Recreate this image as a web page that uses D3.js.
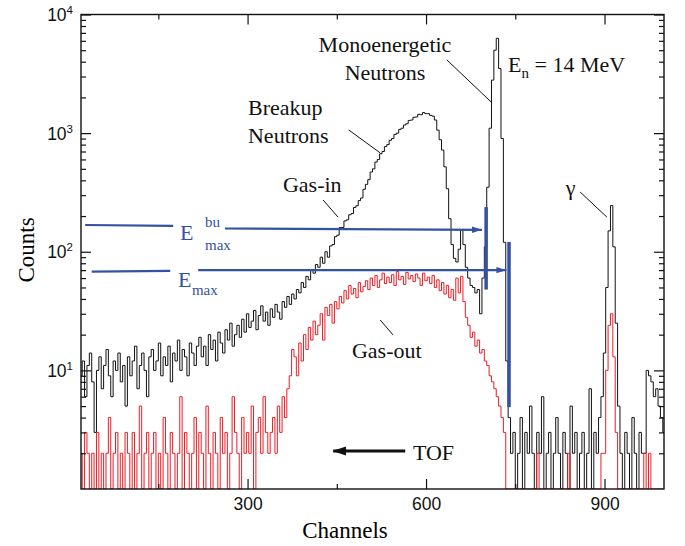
<!DOCTYPE html>
<html>
<head>
<meta charset="utf-8">
<script src="https://cdn.jsdelivr.net/npm/d3@7"></script>
<style>
  body { margin: 0; background: #fff; }
  svg { display: block; }
  .tick text { font-family: "Liberation Sans", Arial, sans-serif; font-size: 17.5px; fill: #111; }
</style>
</head>
<body>
<div id="container"></div>
<script>
/* CONSTANTS AND GLOBALS */
const width = 685, height = 546;
const margin = { top: 14.5, right: 21, bottom: 57, left: 81 };
const serifFont = "'Liberation Serif', 'Times New Roman', serif";

/* DATA */
// channels sampled every 4 bins
const channels = d3.range(20, 1001, 4);

// Gas-in spectrum (black)
const gasIn = [
  9, 12, 6, 11, 14, 8, 3, 10, 13, 7,
  11, 15, 9, 6, 12, 10, 14, 8, 11, 5,
  13, 9, 12, 16, 7, 11, 14, 10, 6, 13,
  15, 10, 12, 17, 9, 13, 11, 16, 8, 14,
  12, 18, 10, 15, 13, 9, 17, 14, 11, 16,
  19, 13, 16, 11, 20, 15, 18, 12, 21, 17,
  14, 22, 18, 25, 16, 20, 24, 19, 27, 21,
  30, 23, 26, 32, 22, 29, 35, 26, 31, 24,
  33, 28, 36, 31, 27, 38, 34, 42, 36, 44,
  40, 48, 45, 55, 50, 62, 58, 70, 66, 78,
  74, 90, 80, 100, 90, 112, 115, 134, 138, 160,
  160, 182, 186, 205, 210, 236, 244, 270, 284, 336,
  370, 405, 470, 500, 570, 600, 670, 700, 770, 800,
  870, 900, 975, 1000, 1075, 1100, 1170, 1200, 1280, 1290,
  1360, 1370, 1440, 1430, 1490, 1460, 1460, 1410, 1390, 1290,
  1060, 880, 720, 520, 340, 190, 115, 88, 82, 105,
  152, 115, 74, 60, 52, 50, 45, 48, 30, 60,
  110, 350, 1100, 2800, 5000, 6300, 3500, 900, 120, 12,
  4, 2, 3, 1, 2, 4, 1, 3, 2, 5,
  2, 1, 3, 2, 6, 1, 2, 3, 1, 2,
  4, 2, 1, 3, 2, 1, 5, 2, 3, 1,
  2, 3, 1, 2, 7, 1, 3, 2, 4, 6,
  14, 50, 150, 245, 110, 25, 5, 2, 1, 3,
  2, 1, 4, 2, 1, 3, 2, 2, 10, 9,
  8, 6, 7, 5, 4, 3
];

// Gas-out spectrum (red)
const gasOut = [
  2, 1, 3, 2, 1, 2, 1, 3, 1, 2,
  1, 2, 4, 1, 2, 3, 1, 2, 1, 3,
  2, 1, 3, 1, 2, 5, 1, 2, 3, 1,
  2, 3, 1, 2, 1, 4, 2, 1, 3, 2,
  1, 2, 6, 1, 3, 2, 1, 2, 4, 1,
  3, 2, 1, 5, 2, 1, 3, 2, 1, 4,
  2, 3, 1, 2, 6, 3, 2, 1, 4, 2,
  3, 2, 5, 1, 3, 4, 2, 6, 3, 2,
  3, 4, 2, 5, 3, 6, 4, 7, 9, 15,
  13, 9, 17, 12, 20, 15, 23, 18, 26, 20,
  24, 30, 18, 34, 29, 36, 25, 38, 33, 42,
  37, 47, 40, 52, 44, 49, 41, 55, 46, 51,
  57, 48, 60, 52, 63, 50, 58, 66, 54, 61,
  55, 64, 52, 68, 58, 62, 53, 67, 59, 63,
  56, 65, 60, 52, 66, 57, 61, 54, 63, 50,
  58, 47, 55, 44, 52, 41, 48, 39, 60, 45,
  62, 38, 28, 24, 19, 21, 16, 18, 14, 15,
  12, 11, 9, 8, 7, 6, 5, 4, 3, 1,
  1, 1, 1, 1, 1, 1, 1, 1, 1, 1,
  1, 1, 2, 1, 1, 1, 1, 1, 1, 1,
  1, 1, 1, 1, 1, 2, 1, 1, 1, 1,
  1, 1, 1, 1, 1, 1, 1, 1, 1, 2,
  2, 10, 24, 30, 13, 3, 1, 1, 1, 1,
  1, 1, 1, 1, 1, 1, 1, 2, 1, 2,
  1, 1, 1, 1, 1, 1
];

// tick values
const xMajor = [300, 600, 900];
const xMinor = [150, 450, 750];
const yMajor = [10, 100, 1000, 10000];

// annotation anchors, [channel, counts]
const eBuLeft = [[27, 168], [175, 165]];
const eBuRight = [[262, 157], [694, 153]];
const eBuBar = [[701, 48], [701, 238]];
const eMaxLeft = [[38, 68], [170, 69]];
const eMaxRight = [[217, 70], [735, 70]];
const eMaxBar = [[739.5, 4.9], [739.5, 121]];
const tofArrow = [[565, 2.09], [444, 2.09]];
const leaders = [
  [[635, 4140], [711, 1800]],
  [[470, 1064], [523, 681]],
  [[427, 273], [452, 196]],
  [[859, 319], [904, 196]],
  [[523, 26.6], [544.5, 19.9]]
];
const labels = [
  { t: "Monoenergetic", ch: 531, v: 4840, anchor: "middle" },
  { t: "Neutrons", ch: 531, v: 2810, anchor: "middle" },
  { t: "Breakup", ch: 300.7, v: 1423, anchor: "start" },
  { t: "Neutrons", ch: 300.7, v: 827, anchor: "start" },
  { t: "Gas-in", ch: 359.5, v: 319, anchor: "start" },
  { t: "γ", ch: 835, v: 301, anchor: "start" },
  { t: "Gas-out", ch: 475.5, v: 12.7, anchor: "start" },
  { t: "TOF", ch: 578, v: 1.756, anchor: "start" }
];

// SCALES
const x = d3.scaleLinear().domain([20, 1000]).range([margin.left, width - margin.right]);
const y = d3.scaleLog().domain([1, 1e4]).range([height - margin.bottom, margin.top]).clamp(true);

const yMinor = [];
for (let e = 0; e < 4; e++) for (let m = 2; m <= 9; m++) yMinor.push(m * Math.pow(10, e));

// HTML ELEMENTS
const svg = d3.select("#container")
  .append("svg")
  .attr("width", width)
  .attr("height", height);

const defs = svg.append("defs");
defs.append("clipPath").attr("id", "plot")
  .append("rect")
  .attr("x", x(20)).attr("y", y(1e4))
  .attr("width", x(1000) - x(20)).attr("height", y(1) - y(1e4));

defs.append("marker").attr("id", "blueHead")
  .attr("viewBox", "0 -4 10 8").attr("refX", 10).attr("refY", 0)
  .attr("markerWidth", 10).attr("markerHeight", 8)
  .attr("markerUnits", "userSpaceOnUse").attr("orient", "auto")
  .append("path").attr("d", "M0,-3.2L10,0L0,3.2Z").attr("fill", "#3352a4");

defs.append("marker").attr("id", "blackHead")
  .attr("viewBox", "0 -5 14 10").attr("refX", 13).attr("refY", 0)
  .attr("markerWidth", 14).attr("markerHeight", 10)
  .attr("markerUnits", "userSpaceOnUse").attr("orient", "auto")
  .append("path").attr("d", "M0,-4.5L14,0L0,4.5Z").attr("fill", "#111");

// spectra
const line = d3.line()
  .x((d, i) => x(channels[i]))
  .y(d => y(Math.max(d, 1)))
  .curve(d3.curveStep);

const plot = svg.append("g").attr("clip-path", "url(#plot)");

plot.append("path")
  .datum(gasIn)
  .attr("d", line)
  .attr("fill", "none")
  .attr("stroke", "#111")
  .attr("stroke-width", 1);

plot.append("path")
  .datum(gasOut)
  .attr("d", line)
  .attr("fill", "none")
  .attr("stroke", "#ee1c24")
  .attr("stroke-width", 1);

// AXES
svg.append("g")
  .attr("transform", `translate(0,${y(1)})`)
  .call(d3.axisBottom(x).tickValues(xMajor).tickSize(-10).tickSizeOuter(0).tickPadding(9).tickFormat(d3.format("d")));
svg.append("g")
  .attr("transform", `translate(0,${y(1)})`)
  .call(d3.axisBottom(x).tickValues(xMinor).tickSize(-5).tickSizeOuter(0).tickFormat(""));
svg.append("g")
  .attr("transform", `translate(0,${y(1e4)})`)
  .call(d3.axisTop(x).tickValues(xMajor).tickSize(-10).tickSizeOuter(0).tickFormat(""));
svg.append("g")
  .attr("transform", `translate(0,${y(1e4)})`)
  .call(d3.axisTop(x).tickValues(xMinor).tickSize(-5).tickSizeOuter(0).tickFormat(""));

const left = svg.append("g")
  .attr("transform", `translate(${x(20)},0)`)
  .call(d3.axisLeft(y).tickValues(yMajor).tickSize(-10).tickSizeOuter(0).tickPadding(8).tickFormat(""));
svg.append("g")
  .attr("transform", `translate(${x(20)},0)`)
  .call(d3.axisLeft(y).tickValues(yMinor).tickSize(-5).tickSizeOuter(0).tickFormat(""));
svg.append("g")
  .attr("transform", `translate(${x(1000)},0)`)
  .call(d3.axisRight(y).tickValues(yMajor).tickSize(-10).tickSizeOuter(0).tickFormat(""));
svg.append("g")
  .attr("transform", `translate(${x(1000)},0)`)
  .call(d3.axisRight(y).tickValues(yMinor).tickSize(-5).tickSizeOuter(0).tickFormat(""));

svg.selectAll(".domain").remove();
svg.selectAll(".tick line").attr("stroke", "#111").attr("stroke-width", 1.2);

// 10^n labels
left.selectAll(".tick text")
  .attr("dy", "0.34em")
  .each(function(d) {
    const t = d3.select(this);
    t.append("tspan").text("10");
    t.append("tspan").attr("font-size", "11.5px").attr("dy", -7).text(Math.round(Math.log10(d)));
  });

// frame
svg.append("rect")
  .attr("x", x(20)).attr("y", y(1e4))
  .attr("width", x(1000) - x(20)).attr("height", y(1) - y(1e4))
  .attr("fill", "none").attr("stroke", "#111").attr("stroke-width", 1.4);

// axis titles
svg.append("text")
  .style("font-family", serifFont)
  .attr("x", 345).attr("y", 538)
  .attr("text-anchor", "middle")
  .attr("font-size", "23px")
  .text("Channels");

svg.append("text")
  .style("font-family", serifFont)
  .attr("transform", "translate(34,250) rotate(-90)")
  .attr("text-anchor", "middle")
  .attr("font-size", "23px")
  .text("Counts");

// ANNOTATIONS
const seg = d3.line().x(d => x(d[0])).y(d => y(d[1]));
const blue = "#3352a4";

[eBuLeft, eMaxLeft].forEach(p => {
  svg.append("path").attr("d", seg(p)).attr("stroke", blue).attr("stroke-width", 2.2).attr("fill", "none");
});
[eBuRight, eMaxRight].forEach(p => {
  svg.append("path").attr("d", seg(p)).attr("stroke", blue).attr("stroke-width", 2.2).attr("fill", "none")
    .attr("marker-end", "url(#blueHead)");
});
[eBuBar, eMaxBar].forEach(p => {
  svg.append("path").attr("d", seg(p)).attr("stroke", blue).attr("stroke-width", 3.5).attr("fill", "none");
});

svg.append("path").attr("d", seg(tofArrow))
  .attr("stroke", "#111").attr("stroke-width", 3).attr("fill", "none")
  .attr("marker-end", "url(#blackHead)");

leaders.forEach(p => {
  svg.append("path").attr("d", seg(p)).attr("stroke", "#111").attr("stroke-width", 1).attr("fill", "none");
});

svg.selectAll("text.label")
  .data(labels)
  .join("text")
  .attr("class", "label")
  .style("font-family", serifFont)
  .attr("x", d => x(d.ch))
  .attr("y", d => y(d.v))
  .attr("text-anchor", d => d.anchor)
  .attr("font-size", "22px")
  .attr("fill", "#111")
  .text(d => d.t);

// E_n = 14 MeV
const en = svg.append("text").style("font-family", serifFont)
  .attr("x", x(737.8)).attr("y", y(3280))
  .attr("font-size", "22px").attr("fill", "#111");
en.append("tspan").text("E");
en.append("tspan").attr("font-size", "15px").attr("dy", 6).text("n");
en.append("tspan").attr("dy", -6).text(" = 14 MeV");

// E^bu_max
const ebx = x(186.4), eby = y(125.8);
svg.append("text").style("font-family", serifFont).attr("x", ebx).attr("y", eby)
  .attr("font-size", "22px").attr("fill", blue).text("E");
svg.append("text").style("font-family", serifFont).attr("x", ebx + 25).attr("y", eby - 13)
  .attr("font-size", "15px").attr("fill", blue).text("bu");
svg.append("text").style("font-family", serifFont).attr("x", ebx + 25).attr("y", eby + 10)
  .attr("font-size", "15px").attr("fill", blue).text("max");

// E_max
const emx = x(183), emy = y(50.5);
svg.append("text").style("font-family", serifFont).attr("x", emx).attr("y", emy)
  .attr("font-size", "22px").attr("fill", blue).text("E");
svg.append("text").style("font-family", serifFont).attr("x", emx + 14).attr("y", emy + 8)
  .attr("font-size", "15px").attr("fill", blue).text("max");
</script>
</body>
</html>
